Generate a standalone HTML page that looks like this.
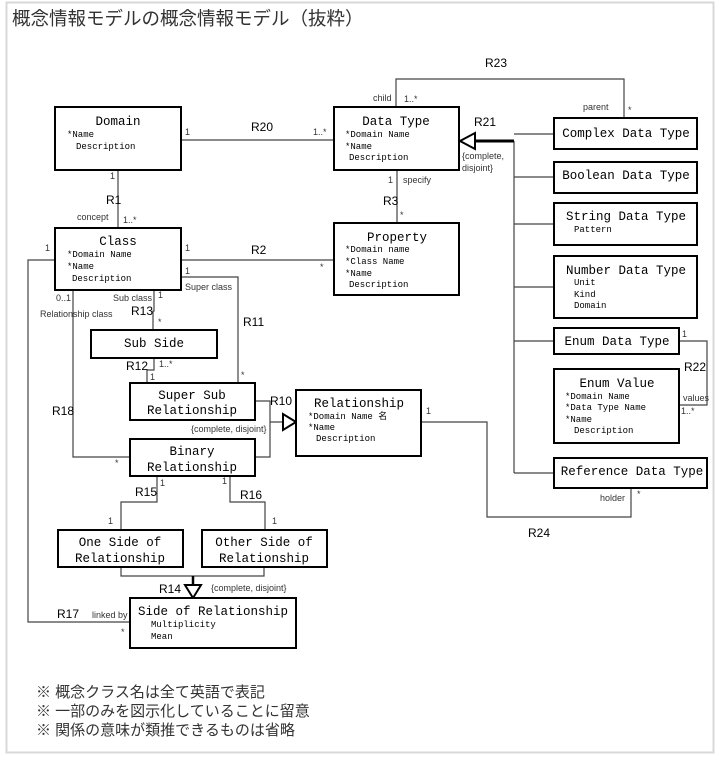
<!DOCTYPE html>
<html><head><meta charset="utf-8"><style>
body{margin:0;background:#fff;width:720px;height:757px;overflow:hidden}
svg{position:absolute;left:0;top:0}
.t{font-family:"Liberation Mono","DejaVu Sans Mono",monospace;font-size:12.5px;fill:#000}
.a{font-family:"Liberation Mono","DejaVu Sans Mono",monospace;font-size:9px;fill:#000}
.s{font-family:"Liberation Sans",sans-serif;font-size:9px;fill:#333}
.r{font-family:"Liberation Sans",sans-serif;font-size:12px;fill:#000}
.j{font-family:"Liberation Sans","Noto Sans CJK JP",sans-serif;fill:#333}
rect.b{fill:#fff;stroke:#000;stroke-width:2}
.l{fill:none;stroke:#444;stroke-width:1.2}
</style></head><body>
<svg width="720" height="757" viewBox="0 0 720 757">
<rect x="6.5" y="2.5" width="707" height="750" fill="none" stroke="#d8d8d8" stroke-width="2"/>
<text class="j" x="12" y="25" font-size="18.5">概念情報モデルの概念情報モデル（抜粋）</text>

<g class="l">
<path d="M181 140H334"/>
<path d="M118 170V228"/>
<path d="M181 260H334"/>
<path d="M397 170V223"/>
<path d="M396 107V79H624V118"/>
<path d="M514 141V473M514 134H554M514 177H554M514 224H554M514 287H554M514 341H554M514 473H554"/>
<path d="M679 341H707V405H679"/>
<path d="M421 422H487V517H631V488"/>
<path d="M55 260H28V622H130"/>
<path d="M73 290V457H130"/>
<path d="M154 290V311H153V330"/>
<path d="M181 277H238V383"/>
<path d="M154 358V370H147V383"/>
<path d="M255 401H270V457H255M270 422H283"/>
<path d="M157 476V502H121V530"/>
<path d="M230 476V502H265V530"/>
<path d="M121 567V576H264V567"/>
</g>
<path d="M475 141H514" stroke="#000" stroke-width="3"/>
<path d="M193 576V585" stroke="#000" stroke-width="2.5"/>
<polygon points="460,141 475,133 475,149" fill="#fff" stroke="#000" stroke-width="2"/>
<polygon points="296,422 283,414 283,430" fill="#fff" stroke="#000" stroke-width="2"/>
<polygon points="193,598 185,585 201,585" fill="#fff" stroke="#000" stroke-width="2"/>

<rect class="b" x="55" y="107" width="126" height="63"/>
<text class="t" x="118" y="125" text-anchor="middle">Domain</text>
<text class="a" x="67" y="137">*Name</text><text class="a" x="76" y="149">Description</text>

<rect class="b" x="334" y="107" width="125" height="63"/>
<text class="t" x="396" y="125" text-anchor="middle">Data Type</text>
<text class="a" x="345" y="137">*Domain Name</text><text class="a" x="345" y="149">*Name</text><text class="a" x="349" y="160">Description</text>

<rect class="b" x="55" y="228" width="126" height="62"/>
<text class="t" x="118" y="245" text-anchor="middle">Class</text>
<text class="a" x="67" y="257">*Domain Name</text><text class="a" x="67" y="269">*Name</text><text class="a" x="72" y="281">Description</text>

<rect class="b" x="334" y="223" width="125" height="72"/>
<text class="t" x="397" y="241" text-anchor="middle">Property</text>
<text class="a" x="345" y="252">*Domain name</text><text class="a" x="345" y="264">*Class Name</text><text class="a" x="345" y="276">*Name</text><text class="a" x="349" y="287">Description</text>

<rect class="b" x="554" y="118" width="143" height="31"/>
<text class="t" x="626" y="137" text-anchor="middle">Complex Data Type</text>
<rect class="b" x="554" y="162" width="143" height="31"/>
<text class="t" x="626" y="179" text-anchor="middle">Boolean Data Type</text>
<rect class="b" x="554" y="203" width="143" height="42"/>
<text class="t" x="626" y="220" text-anchor="middle">String Data Type</text>
<text class="a" x="574" y="232">Pattern</text>
<rect class="b" x="554" y="256" width="143" height="62"/>
<text class="t" x="626" y="274" text-anchor="middle">Number Data Type</text>
<text class="a" x="574" y="285">Unit</text><text class="a" x="574" y="297">Kind</text><text class="a" x="574" y="308">Domain</text>
<rect class="b" x="554" y="328" width="125" height="26"/>
<text class="t" x="617" y="345" text-anchor="middle">Enum Data Type</text>
<rect class="b" x="554" y="369" width="125" height="74"/>
<text class="t" x="617" y="387" text-anchor="middle">Enum Value</text>
<text class="a" x="565" y="399">*Domain Name</text><text class="a" x="565" y="410">*Data Type Name</text><text class="a" x="565" y="422">*Name</text><text class="a" x="574" y="433">Description</text>
<rect class="b" x="554" y="458" width="153" height="30"/>
<text class="t" x="632" y="475" text-anchor="middle">Reference Data Type</text>

<rect class="b" x="91" y="330" width="126" height="28"/>
<text class="t" x="154" y="347" text-anchor="middle">Sub Side</text>
<rect class="b" x="130" y="383" width="125" height="37"/>
<text class="t" x="192" y="399" text-anchor="middle">Super Sub</text><text class="t" x="192" y="414" text-anchor="middle">Relationship</text>
<rect class="b" x="296" y="390" width="125" height="66"/>
<text class="t" x="359" y="407" text-anchor="middle">Relationship</text>
<text class="a" x="308" y="419">*Domain Name 名</text><text class="a" x="308" y="430">*Name</text><text class="a" x="316" y="441">Description</text>
<rect class="b" x="130" y="439" width="125" height="37"/>
<text class="t" x="192" y="455" text-anchor="middle">Binary</text><text class="t" x="192" y="471" text-anchor="middle">Relationship</text>
<rect class="b" x="58" y="530" width="125" height="37"/>
<text class="t" x="120" y="546" text-anchor="middle">One Side of</text><text class="t" x="120" y="562" text-anchor="middle">Relationship</text>
<rect class="b" x="202" y="530" width="125" height="37"/>
<text class="t" x="264" y="546" text-anchor="middle">Other Side of</text><text class="t" x="264" y="562" text-anchor="middle">Relationship</text>
<rect class="b" x="130" y="598" width="166" height="50"/>
<text class="t" x="213" y="615" text-anchor="middle">Side of Relationship</text>
<text class="a" x="151" y="627">Multiplicity</text><text class="a" x="151" y="639">Mean</text>

<text class="r" x="251" y="131">R20</text>
<text class="r" x="106" y="204">R1</text>
<text class="r" x="251" y="254">R2</text>
<text class="r" x="383" y="205">R3</text>
<text class="r" x="485" y="67">R23</text>
<text class="r" x="474" y="126">R21</text>
<text class="r" x="684" y="371">R22</text>
<text class="r" x="528" y="537">R24</text>
<text class="r" x="131" y="315">R13</text>
<text class="r" x="243" y="326">R11</text>
<text class="r" x="126" y="370">R12</text>
<text class="r" x="270" y="405">R10</text>
<text class="r" x="52" y="415">R18</text>
<text class="r" x="135" y="496">R15</text>
<text class="r" x="240" y="499">R16</text>
<text class="r" x="159" y="593">R14</text>
<text class="r" x="57" y="618">R17</text>

<g class="s">
<text x="185" y="135">1</text><text x="313" y="135">1..*</text>
<text x="110" y="179">1</text><text x="77" y="220">concept</text><text x="123" y="223">1..*</text>
<text x="185" y="251">1</text><text x="320" y="270">*</text>
<text x="185" y="274">1</text><text x="185" y="290">Super class</text>
<text x="45" y="251">1</text>
<text x="56" y="301">0..1</text><text x="113" y="301">Sub class</text><text x="158" y="298">1</text>
<text x="40" y="317">Relationship class</text>
<text x="158" y="325">*</text>
<text x="159" y="367">1..*</text><text x="150" y="380">1</text>
<text x="241" y="378">*</text>
<text x="191" y="432">{complete, disjoint}</text>
<text x="115" y="466">*</text>
<text x="426" y="414">1</text>
<text x="160" y="486">1</text><text x="222" y="484">1</text>
<text x="108" y="524">1</text><text x="272" y="524">1</text>
<text x="211" y="591">{complete, disjoint}</text>
<text x="92" y="618">linked by</text><text x="121" y="635">*</text>
<text x="373" y="101">child</text><text x="404" y="102">1..*</text>
<text x="583" y="110">parent</text><text x="628" y="113">*</text>
<text x="462" y="159">{complete,</text><text x="462" y="171">disjoint}</text>
<text x="388" y="183">1</text><text x="403" y="183">specify</text><text x="400" y="218">*</text>
<text x="682" y="337">1</text><text x="683" y="401">values</text><text x="681" y="414">1..*</text>
<text x="600" y="501">holder</text><text x="637" y="497">*</text>
</g>

<text class="j" x="36" y="697" font-size="15">※ 概念クラス名は全て英語で表記</text>
<text class="j" x="36" y="716" font-size="15">※ 一部のみを図示化していることに留意</text>
<text class="j" x="36" y="735" font-size="15">※ 関係の意味が類推できるものは省略</text>
</svg>
</body></html>
